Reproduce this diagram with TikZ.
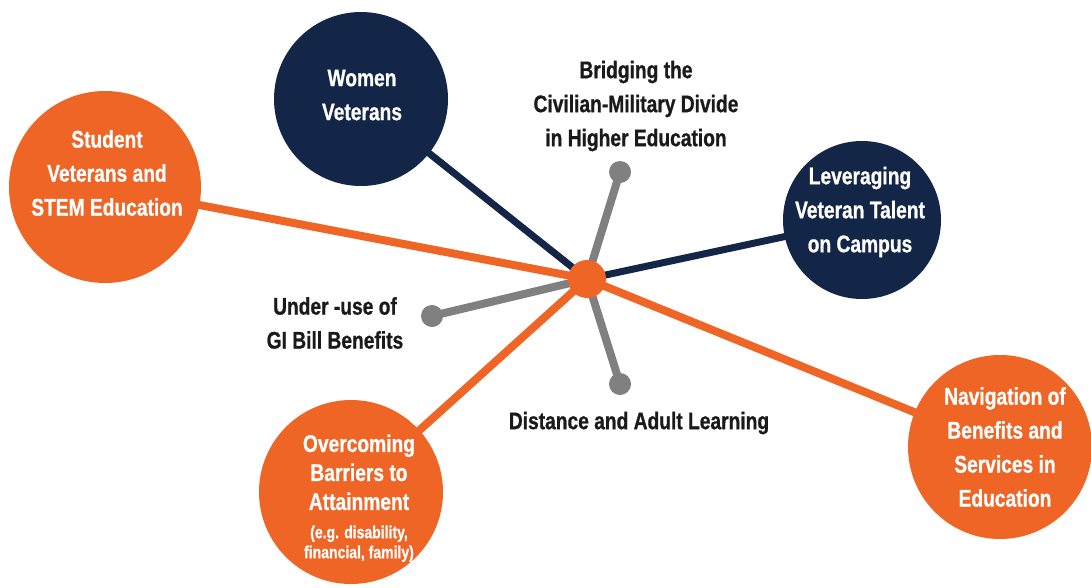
\documentclass[tikz,border=0pt]{standalone}
\usepackage{fontspec}
\setmainfont{Liberation Sans}[FakeStretch=0.8,BoldFeatures={FakeBold=0.8}]
\definecolor{vorange}{RGB}{239,101,38}
\definecolor{vnavy}{RGB}{20,38,72}
\definecolor{vgray}{RGB}{128,128,128}
\definecolor{vtext}{RGB}{26,26,26}
\begin{document}
\begin{tikzpicture}[x=1pt,y=-1pt,
  bubble/.style={circle,inner sep=0pt,minimum size=#1},
  obub/.style={bubble=#1,fill=vorange},
  nbub/.style={bubble=#1,fill=vnavy},
  dot/.style={circle,inner sep=0pt,minimum size=22pt,fill=vgray},
  intext/.style={align=center,text=white,font=\bfseries\fontsize{24}{34}\selectfont},
  outtext/.style={align=center,text=vtext,font=\bfseries\fontsize{24}{34}\selectfont},
  oline/.style={line width=8pt,vorange},
  nline/.style={line width=7pt,vnavy},
  gline/.style={line width=8pt,vgray}]
\useasboundingbox (0,0) rectangle (1091,587);
\fill[white] (0,0) rectangle (1091,587);
% centre points
\coordinate (hc) at (587,279);
\coordinate (cstem) at (105,187);
\coordinate (cwomen) at (361,99);
\coordinate (clev) at (862,220);
\coordinate (cnav) at (1000,447);
\coordinate (cover) at (351,492);
\coordinate (gt) at (620,172);
\coordinate (gl) at (432,316);
\coordinate (gb) at (620,384);
% connectors
\draw[gline] (hc) -- (gt);
\draw[gline] (hc) -- (gl);
\draw[gline] (hc) -- (gb);
\draw[nline] (cwomen) -- (hc);
\draw[nline] (clev) -- (hc);
\draw[oline] (cstem) -- (hc);
\draw[oline] (cnav) -- (hc);
\draw[oline] (cover) -- (hc);
% dots and bubbles
\node[dot] (dt) at (gt) {};
\node[dot] (dl) at (gl) {};
\node[dot] (db) at (gb) {};
\node[obub=192pt] (stem) at (cstem) {};
\node[nbub=174pt] (women) at (cwomen) {};
\node[nbub=158pt] (lev) at (clev) {};
\node[obub=184pt] (nav) at (cnav) {};
\node[obub=184pt] (over) at (cover) {};
\node[circle,inner sep=0pt,minimum size=38pt,fill=vorange] (hub) at (hc) {};
% texts
\node[intext] (tstem) at (107,173) {Student\\Veterans and\\STEM Education};
\node[intext] (twomen) at (362,95) {Women\\Veterans};
\node[intext] (tlev) at (860,212) {Leveraging\\Veteran Talent\\on Campus};
\node[intext] (tnav) at (1005,447) {Navigation of\\Benefits and\\Services in\\Education};
\node[intext,anchor=north,font=\bfseries\fontsize{24}{29}\selectfont] (tover) at (359,431) {Overcoming\\Barriers to\\Attainment};
\node[intext,anchor=north,font=\bfseries\fontsize{17.5}{20}\selectfont] (tover2) at (359,522) {(e.g. disability,\\financial, family)};
\node[outtext] (tbridge) at (636,106) {Bridging the\\Civilian-Military Divide\\in Higher Education};
\node[outtext] (tunder) at (335,323) {Under -use of\\GI Bill Benefits};
\node[outtext] (tdist) at (639,423) {Distance and Adult Learning};
\end{tikzpicture}
\end{document}
